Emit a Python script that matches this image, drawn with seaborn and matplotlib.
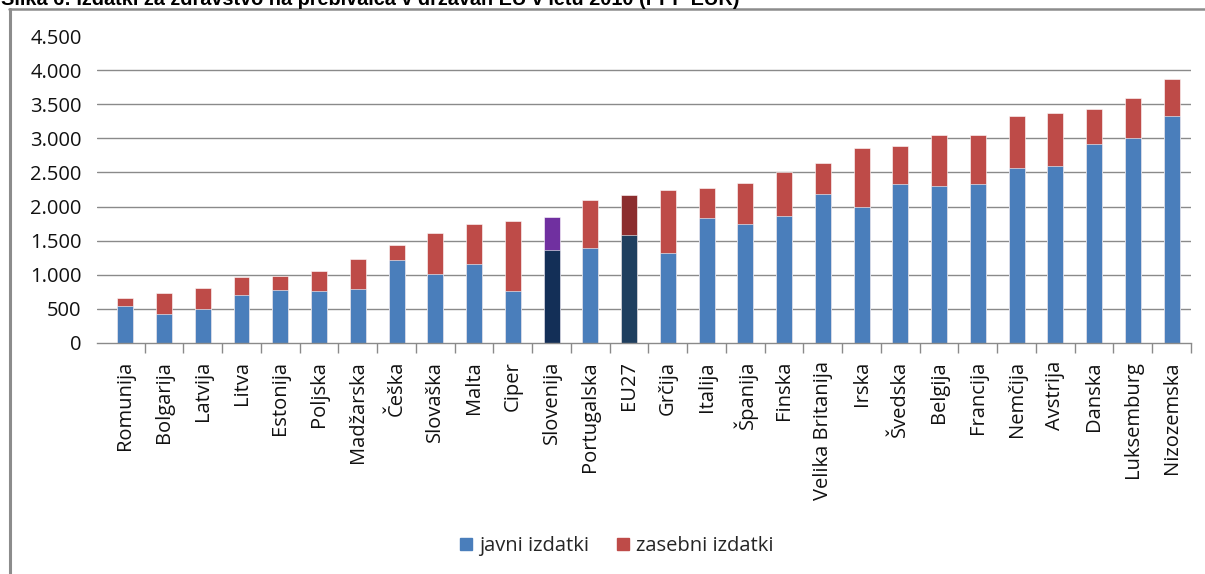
import matplotlib
matplotlib.use("Agg")
import matplotlib.pyplot as plt
from matplotlib.lines import Line2D
from matplotlib.patches import Patch
from matplotlib.ticker import FixedLocator
import pandas as pd
import seaborn as sns

# Izdatki za zdravstvo na prebivalca, 2010 (PPP EUR)
drzave = ["Romunija", "Bolgarija", "Latvija", "Litva", "Estonija", "Poljska",
          "Madžarska", "Češka", "Slovaška", "Malta", "Ciper", "Slovenija",
          "Portugalska", "EU27", "Grčija", "Italija", "Španija", "Finska",
          "Velika Britanija", "Irska", "Švedska", "Belgija", "Francija",
          "Nemčija", "Avstrija", "Danska", "Luksemburg", "Nizozemska"]
javni = [538, 426, 499, 700, 783, 758, 797, 1213, 1018, 1154, 758, 1360,
         1399, 1580, 1320, 1829, 1737, 1863, 2186, 1995, 2333, 2299, 2333,
         2563, 2597, 2920, 3008, 3330]
zasebni = [128, 313, 314, 264, 206, 304, 431, 220, 601, 597, 1032, 489,
           690, 587, 920, 445, 601, 639, 450, 866, 548, 748, 714,
           767, 773, 503, 582, 543]
y_ticks = [0, 500, 1000, 1500, 2000, 2500, 3000, 3500, 4000, 4500]
legenda = ["javni izdatki", "zasebni izdatki"]
naslov = "Slika 6: Izdatki za zdravstvo na prebivalca v državah EU v letu 2010 (PPP EUR)"

MODRA, RDECA = "#4A7EBB", "#BE4B48"
posebne = {"Slovenija": ("#132F57", "#7030A0"), "EU27": ("#1F3F5F", "#8C2D2E")}

df = pd.DataFrame({"drzava": drzave, "javni": javni, "zasebni": zasebni})
df["skupaj"] = df["javni"] + df["zasebni"]

barve_javni = [posebne.get(d, (MODRA, RDECA))[0] for d in drzave]
barve_zasebni = [posebne.get(d, (MODRA, RDECA))[1] for d in drzave]

sns.set_theme(style="white")
plt.rcParams["font.family"] = ["Open Sans", "DejaVu Sans"]

W, H = 1205, 574
fig = plt.figure(figsize=(W / 100, H / 100), dpi=100)
ax = fig.add_axes([97 / W, 1 - 343 / H, (1191 - 97) / W, (343 - 36) / H])

# stacked bars: full height in the private colour, public share drawn over it
sns.barplot(data=df, x="drzava", y="skupaj", hue="drzava", palette=barve_zasebni,
            legend=False, width=0.41, saturation=1, ax=ax, order=drzave,
            edgecolor="white", linewidth=0.4)
sns.barplot(data=df, x="drzava", y="javni", hue="drzava", palette=barve_javni,
            legend=False, width=0.41, saturation=1, ax=ax, order=drzave,
            edgecolor="white", linewidth=0.4)

for v in y_ticks[1:-1]:
    ax.axhline(v, color="#8A8A8A", lw=1.0, zorder=0)

ax.set_xlim(-0.73, len(drzave) - 0.5)
ax.set_ylim(y_ticks[0], y_ticks[-1])
ax.set_yticks(y_ticks)
ax.set_yticklabels([f"{v:,}".replace(",", ".") for v in y_ticks],
                   fontsize=14.5, color="#111111")
ax.set_xticks(range(len(drzave)))
ax.set_xticklabels(drzave, rotation=90, fontsize=14.5, color="#111111")
ax.xaxis.set_minor_locator(FixedLocator([i + 0.5 for i in range(len(drzave))]))
ax.tick_params(axis="x", which="major", length=0, pad=13)
ax.tick_params(axis="x", which="minor", length=7, width=1.0, color="#8A8A8A",
               direction="out", bottom=True)
ax.tick_params(axis="y", length=0, pad=11)
ax.set_xlabel("")
ax.set_ylabel("")
for s in ["top", "right", "left"]:
    ax.spines[s].set_visible(False)
ax.spines["bottom"].set_color("#8A8A8A")
ax.spines["bottom"].set_linewidth(1.0)
ax.grid(False)

# chart-area frame (left and top edges)
fig.add_artist(Line2D([9.5 / W, 9.5 / W], [0, 1 - 9 / H], color="#8C8C8C",
                      lw=2.2, transform=fig.transFigure))
fig.add_artist(Line2D([8.5 / W, 1], [1 - 9 / H, 1 - 9 / H], color="#8C8C8C",
                      lw=1.8, transform=fig.transFigure))

# figure caption, partly above the top edge
fig.text(1 / W, 1 - 5 / H, naslov, family="Liberation Sans", fontweight="bold",
         fontsize=14.3, color="black", va="baseline", ha="left")

handles = [Patch(color=MODRA), Patch(color=RDECA)]
fig.legend(handles, legenda, loc="center", bbox_to_anchor=(617 / W, 1 - 546 / H),
           ncol=2, frameon=False, fontsize=14.5, handlelength=0.6,
           handleheight=0.6, handletextpad=0.35, columnspacing=1.4)

fig.savefig("out.png", dpi=100, facecolor="white")
